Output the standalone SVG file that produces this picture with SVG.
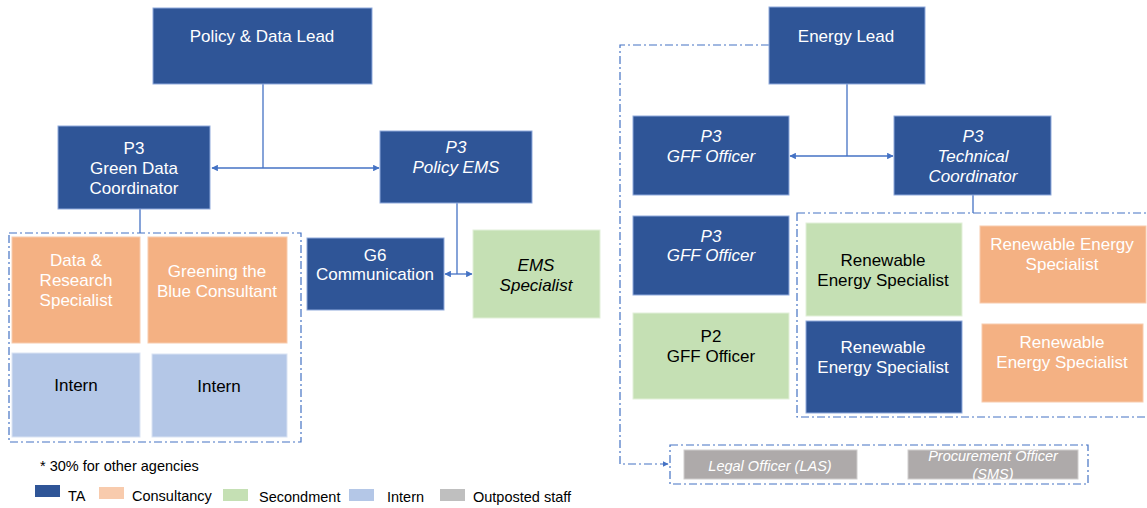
<svg xmlns="http://www.w3.org/2000/svg" width="1147" height="508" viewBox="0 0 1147 508">
<defs>
<marker id="ah" viewBox="0 0 10 10" refX="9" refY="5" markerWidth="5" markerHeight="5" orient="auto-start-reverse"><path d="M0,0 L10,5 L0,10 z" fill="#4472C4"/></marker>
<style>
.ta{fill:#2F5597;stroke:#8FAADC;stroke-width:1}
.co{fill:#F4B183;stroke:#F8CBAD;stroke-width:1}
.se{fill:#C5E0B4;stroke:#E2F0D9;stroke-width:1}
.in{fill:#B4C7E7;stroke:#DAE3F3;stroke-width:1}
.os{fill:#AEAAAA;stroke:#D0CECE;stroke-width:1}
text{font-family:"Liberation Sans",Arial,sans-serif;font-size:17px;text-anchor:middle}
.w{fill:#FFFFFF}
.b{fill:#000000}
.i{font-style:italic}
.ln{fill:none;stroke:#4472C4;stroke-width:1.3}
.dd{fill:none;stroke:#4472C4;stroke-width:1.2;stroke-dasharray:8 3 2 3}
.lg{font-size:14.5px;text-anchor:start;fill:#000}
.sm{font-size:14.5px}
</style>
</defs>

<g id="groups">
<rect class="dd" x="9" y="233" width="292" height="209"/>
<rect class="dd" x="797" y="213" width="360" height="204"/>
<rect class="dd" x="670" y="445" width="418" height="39"/>
</g>

<g id="connectors">
<path class="ln" d="M263,84 V168"/>
<path class="ln" d="M263,168 H212" marker-end="url(#ah)"/>
<path class="ln" d="M263,168 H379" marker-end="url(#ah)"/>
<path class="ln" d="M140,209 V233"/>
<path class="ln" d="M457,203 V274"/>
<path class="ln" d="M457,274 H445" marker-end="url(#ah)"/>
<path class="ln" d="M457,274 H472" marker-end="url(#ah)"/>
<path class="ln" d="M847,84 V156"/>
<path class="ln" d="M847,156 H790" marker-end="url(#ah)"/>
<path class="ln" d="M847,156 H893" marker-end="url(#ah)"/>
<path class="ln" d="M973,195 V213"/>
<path class="dd" d="M769,45 H620 V464 H668" marker-end="url(#ah)"/>
</g>

<g id="policy-lead"><rect class="ta" x="153" y="8" width="219" height="76"/><text class="w" x="262" y="42">Policy &amp; Data Lead</text></g>
<g id="green-data-coordinator"><rect class="ta" x="58" y="126" width="152" height="83"/><text class="w" x="134" y="154">P3</text><text class="w" x="134" y="174">Green Data</text><text class="w" x="134" y="194">Coordinator</text></g>
<g id="policy-ems"><rect class="ta" x="380" y="131" width="152" height="72"/><text class="w i" x="456" y="153">P3</text><text class="w i" x="456" y="173">Policy EMS</text></g>
<g id="data-research"><rect class="co" x="12" y="237" width="128" height="106"/><text class="w" x="76" y="266">Data &amp;</text><text class="w" x="76" y="286">Research</text><text class="w" x="76" y="306">Specialist</text></g>
<g id="greening-blue"><rect class="co" x="148" y="237" width="139" height="106"/><text class="w" x="217" y="277">Greening the</text><text class="w" x="217" y="297">Blue Consultant</text></g>
<g id="intern-1"><rect class="in" x="12" y="353" width="128" height="84"/><text class="b" x="76" y="391">Intern</text></g>
<g id="intern-2"><rect class="in" x="152" y="354" width="135" height="83"/><text class="b" x="219" y="392">Intern</text></g>
<g id="g6-communication"><rect class="ta" x="307" y="238" width="137" height="72"/><text class="w" x="375" y="261">G6</text><text class="w" x="375" y="280">Communication</text></g>
<g id="ems-specialist"><rect class="se" x="473" y="230" width="127" height="88"/><text class="b i" x="536" y="271">EMS</text><text class="b i" x="536" y="291">Specialist</text></g>

<g id="energy-lead"><rect class="ta" x="769" y="7" width="156" height="77"/><text class="w" x="846" y="42">Energy Lead</text></g>
<g id="gff-officer-1"><rect class="ta" x="633" y="116" width="156" height="79"/><text class="w i" x="711" y="142">P3</text><text class="w i" x="711" y="162">GFF Officer</text></g>
<g id="technical-coordinator"><rect class="ta" x="894" y="116" width="157" height="79"/><text class="w i" x="973" y="142">P3</text><text class="w i" x="973" y="162">Technical</text><text class="w i" x="973" y="182">Coordinator</text></g>
<g id="gff-officer-2"><rect class="ta" x="633" y="216" width="156" height="79"/><text class="w i" x="711" y="242">P3</text><text class="w i" x="711" y="261">GFF Officer</text></g>
<g id="gff-officer-p2"><rect class="se" x="633" y="313" width="156" height="86"/><text class="b" x="711" y="342">P2</text><text class="b" x="711" y="362">GFF Officer</text></g>
<g id="res-green"><rect class="se" x="806" y="223" width="156" height="93"/><text class="b" x="883" y="266">Renewable</text><text class="b" x="883" y="286">Energy Specialist</text></g>
<g id="res-ta"><rect class="ta" x="806" y="321" width="156" height="92"/><text class="w" x="883" y="353">Renewable</text><text class="w" x="883" y="373">Energy Specialist</text></g>
<g id="res-orange-1"><rect class="co" x="980" y="226" width="166" height="77"/><text class="w" x="1062" y="250">Renewable Energy</text><text class="w" x="1062" y="270">Specialist</text></g>
<g id="res-orange-2"><rect class="co" x="982" y="324" width="161" height="78"/><text class="w" x="1062" y="348">Renewable</text><text class="w" x="1062" y="368">Energy Specialist</text></g>
<g id="legal-officer"><rect class="os" x="684" y="450" width="173" height="29"/><text class="w i sm" x="770" y="471">Legal Officer (LAS)</text></g>
<g id="procurement-officer"><rect class="os" x="908" y="450" width="170" height="29"/><text class="w i sm" x="993" y="461">Procurement Officer</text><text class="w i sm" x="993" y="479">(SMS)</text></g>

<g id="legend">
<text class="lg" x="40" y="471">* 30% for other agencies</text>
<rect x="35" y="485" width="25" height="12" fill="#2F5597"/><text class="lg" x="68" y="501">TA</text>
<rect x="99" y="487" width="25" height="12" fill="#F8CBAD"/><text class="lg" x="132" y="501">Consultancy</text>
<rect x="223" y="489" width="25" height="12" fill="#C5E0B4"/><text class="lg" x="259" y="502">Secondment</text>
<rect x="349" y="489" width="25" height="12" fill="#B4C7E7"/><text class="lg" x="387" y="502">Intern</text>
<rect x="440" y="489" width="25" height="12" fill="#BFBFBF"/><text class="lg" x="473" y="502">Outposted staff</text>
</g>
</svg>
